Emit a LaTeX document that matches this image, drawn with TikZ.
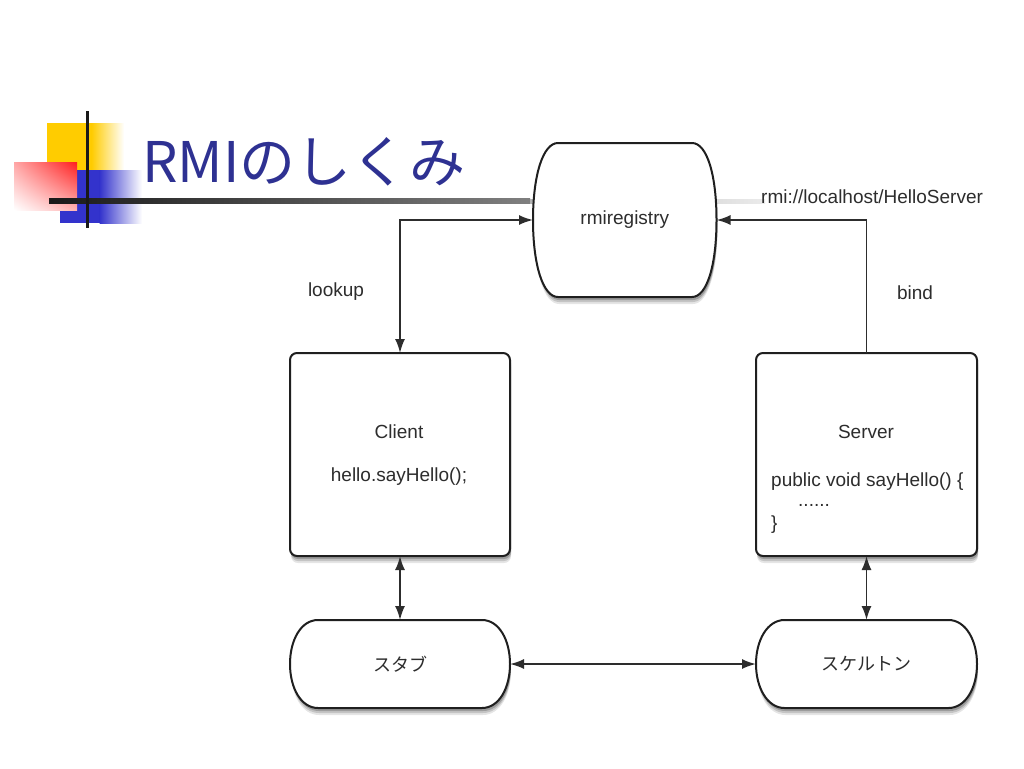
\documentclass[tikz,border=0pt]{standalone}
\usepackage{fontspec}
\setmainfont{Liberation Sans}
\newfontfamily\jp{Noto Sans CJK JP}
\usetikzlibrary{arrows.meta,shadows,shadings}
\definecolor{titleblue}{RGB}{46,49,146}
\definecolor{decoyellow}{RGB}{255,204,0}
\definecolor{decoblue}{RGB}{51,51,204}
\definecolor{decored}{RGB}{255,30,30}
\definecolor{ink}{RGB}{45,45,45}
\tikzset{
  boxline/.style={draw=black!88, line width=2pt, fill=white},
  sh/.style={
    general shadow={shadow xshift=1pt, shadow yshift=-7pt, opacity=0.10, fill=black},
    general shadow={shadow xshift=1pt, shadow yshift=-5pt, opacity=0.14, fill=black},
    general shadow={shadow xshift=1pt, shadow yshift=-3pt, opacity=0.20, fill=black}},
  conn/.style={draw=ink, line width=1.8pt},
  tipb/.style={-{Latex[length=14pt,width=10pt]}},
  tipd/.style={{Latex[length=14pt,width=10pt]}-{Latex[length=14pt,width=10pt]}},
  lbl/.style={font=\fontsize{19}{22}\selectfont, text=ink},
  jlbl/.style={font=\jp\fontsize{18}{22}\selectfont, text=ink},
  anch/.style={inner sep=0pt, outer sep=0pt}
}
\begin{document}
\begin{tikzpicture}[x=1pt,y=-1pt]
\useasboundingbox[fill=white] (0,0) rectangle (1024,768);
% decoration
\fill[decoyellow] (47,123) rectangle (92,175);
\shade[left color=decoyellow, right color=white] (91.5,123) rectangle (124,175);
\fill[decoblue] (60,170) rectangle (100,223);
\shade[left color=decoblue, right color=white] (99.5,170) rectangle (142,223);
\shade[upper right=decored, upper left=red!35, lower right=red!30, lower left=white] (14,162) rectangle (77,210);
\shade[left color=black!90, right color=black!50] (49,198.5) rectangle (530,203);
\shade[left color=black!30, right color=black!8] (530,199.5) rectangle (765,203);
\fill[black!90] (85.5,111) rectangle (88.5,228);
% title
\node[anchor=base west, inner sep=0pt, text=titleblue, font=\jp\fontsize{56}{60}\selectfont] (title) at (142,182) {RMIのしくみ};
% rmiregistry outline
\draw[boxline, sh] (558,143) -- (692,143) .. controls (707,143) and (716.5,175) .. (716.5,220) .. controls (716.5,265) and (707,297) .. (692,297) -- (558,297) .. controls (543,297) and (533,265) .. (533,220) .. controls (533,175) and (543,143) .. (558,143) -- cycle;
\node[anch, lbl, minimum width=183.5pt, minimum height=154pt] (reg) at (624.75,220) {rmiregistry};
% client / server boxes
\node[boxline, sh, rounded corners=7pt, minimum width=220pt, minimum height=203pt, anch] (client) at (400,454.5) {};
\node[boxline, sh, rounded corners=7pt, minimum width=221pt, minimum height=203pt, anch] (server) at (866.5,454.5) {};
\node[lbl] (clientname) at (399,432) {Client};
\node[lbl] (clientcode) at (399,477) {hello.sayHello();};
\node[lbl] (servername) at (866,432) {Server};
\node[lbl, anchor=west, inner sep=0pt] (servercode1) at (771,482) {public void sayHello() \{};
\node[lbl, anchor=west, inner sep=0pt] (servercode2) at (798,505) {......};
\node[lbl, anchor=west, inner sep=0pt] (servercode3) at (771,525) {\}};
% stub / skeleton outlines
\draw[boxline, sh] (318,620) -- (482,620) .. controls (499,620) and (510,640) .. (510,664) .. controls (510,688) and (499,708) .. (482,708) -- (318,708) .. controls (301,708) and (290,688) .. (290,664) .. controls (290,640) and (301,620) .. (318,620) -- cycle;
\draw[boxline, sh] (784.5,620) -- (948.5,620) .. controls (965.5,620) and (977,640) .. (977,664) .. controls (977,688) and (965.5,708) .. (948.5,708) -- (784.5,708) .. controls (767.5,708) and (756,688) .. (756,664) .. controls (756,640) and (767.5,620) .. (784.5,620) -- cycle;
\node[anch, jlbl, minimum width=220pt, minimum height=88pt] (stub) at (400,664) {スタブ};
\node[anch, jlbl, minimum width=221pt, minimum height=88pt] (skel) at (866.5,664) {スケルトン};
% connectors
\draw[conn, tipd] (client.north) |- (reg.west);
\draw[conn, tipb] (server.north) |- (reg.east);
\draw[conn, tipd] (client.south) -- (stub.north);
\draw[conn, tipd] (server.south) -- (skel.north);
\draw[conn, tipd] (stub.east) -- (skel.west);
% labels
\node[lbl] (lookup) at (336,292) {lookup};
\node[lbl] (bind) at (915,293) {bind};
\node[lbl, anchor=west, inner sep=0pt] (url) at (761,197) {rmi://localhost/HelloServer};
\end{tikzpicture}
\end{document}
